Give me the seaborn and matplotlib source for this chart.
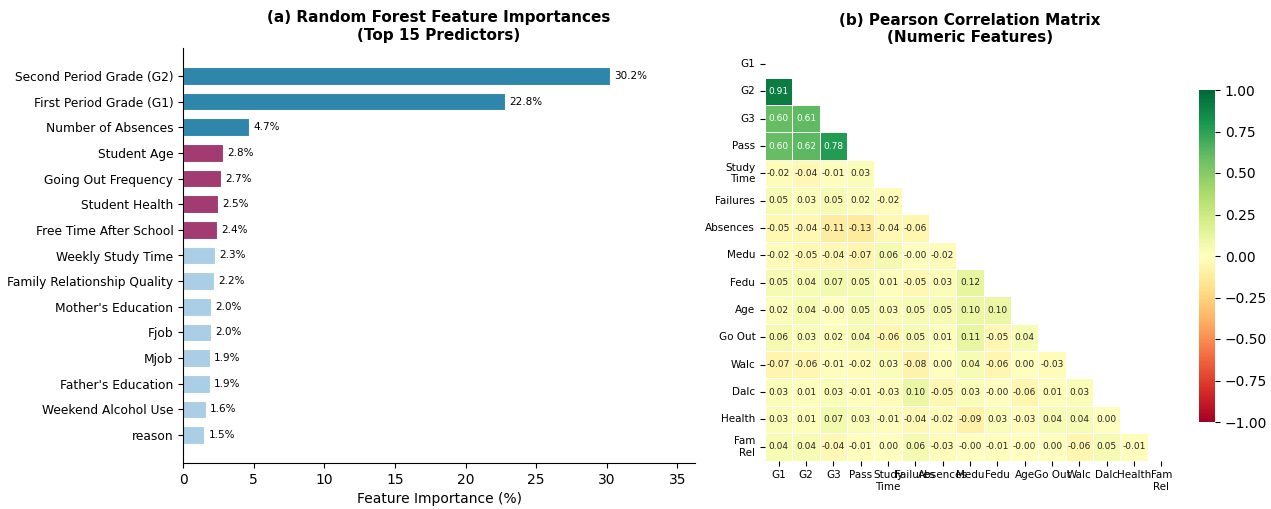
import numpy as np
import pandas as pd
import matplotlib
matplotlib.use("Agg")
import matplotlib.pyplot as plt
import seaborn as sns

# ---- Feature importances (Random Forest, top 15) ----
features = [
    "Second Period Grade (G2)", "First Period Grade (G1)", "Number of Absences",
    "Student Age", "Going Out Frequency", "Student Health", "Free Time After School",
    "Weekly Study Time", "Family Relationship Quality", "Mother's Education",
    "Fjob", "Mjob", "Father's Education", "Weekend Alcohol Use", "reason",
]
importances = [30.2, 22.8, 4.7, 2.8, 2.7, 2.5, 2.4, 2.3, 2.2, 2.0, 2.0, 1.9, 1.9, 1.6, 1.5]
bar_colors = ["#2E86AB"] * 3 + ["#A23B72"] * 4 + ["#A9CEE6"] * 8

# ---- Pearson correlations (lower triangle, row by row) ----
corr_labels = ["G1", "G2", "G3", "Pass", "Study\nTime", "Failures", "Absences",
               "Medu", "Fedu", "Age", "Go Out", "Walc", "Dalc", "Health", "Fam\nRel"]
lower_rows = [
    [],
    [0.91],
    [0.60, 0.61],
    [0.60, 0.62, 0.78],
    [-0.02, -0.04, -0.01, 0.03],
    [0.05, 0.03, 0.05, 0.02, -0.02],
    [-0.05, -0.04, -0.11, -0.13, -0.04, -0.06],
    [-0.02, -0.05, -0.04, -0.07, 0.06, -0.004, -0.02],
    [0.05, 0.04, 0.07, 0.05, 0.01, -0.05, 0.03, 0.12],
    [0.02, 0.04, -0.004, 0.05, 0.03, 0.05, 0.05, 0.10, 0.10],
    [0.06, 0.03, 0.02, 0.04, -0.06, 0.05, 0.01, 0.11, -0.05, 0.04],
    [-0.07, -0.06, -0.01, -0.02, 0.03, -0.08, 0.00, 0.04, -0.06, 0.00, -0.03],
    [0.03, 0.01, 0.03, -0.01, -0.03, 0.10, -0.05, 0.03, -0.004, -0.06, 0.01, 0.03],
    [0.03, 0.01, 0.07, 0.03, -0.01, -0.04, -0.02, -0.09, 0.03, -0.03, 0.04, 0.04, 0.00],
    [0.04, 0.04, -0.04, -0.01, 0.00, 0.06, -0.03, -0.004, -0.01, -0.004, 0.00, -0.06, 0.05, -0.01],
]

n = len(corr_labels)
corr = np.eye(n)
for i, row in enumerate(lower_rows):
    for j, v in enumerate(row):
        corr[i, j] = v
        corr[j, i] = v
corr_df = pd.DataFrame(corr, index=corr_labels, columns=corr_labels)
mask = np.triu(np.ones_like(corr, dtype=bool))

W, H = 1271, 509
fig = plt.figure(figsize=(W / 100, H / 100), dpi=100)

def fbox(x0, y0, x1, y1):
    return [x0 / W, 1 - y1 / H, (x1 - x0) / W, (y1 - y0) / H]

# ---- Panel (a): horizontal bar chart ----
ax1 = fig.add_axes(fbox(183, 48, 695, 463))
imp_df = pd.DataFrame({"feature": features, "importance": importances})
sns.barplot(data=imp_df, x="importance", y="feature", hue="feature",
            palette=bar_colors, legend=False, orient="h", width=0.7,
            saturation=1, edgecolor="white", linewidth=0.8, ax=ax1)
for i, v in enumerate(importances):
    ax1.text(v + 0.3, i, f"{v:.1f}%", va="center", ha="left", fontsize=7.5)
ax1.set_xlim(0, max(importances) * 1.2)
ax1.set_ylim(len(features) - 1 + 1.085, -1.085)
ax1.set_ylabel("")
ax1.set_xlabel("Feature Importance (%)", fontsize=10)
ax1.tick_params(axis="y", labelsize=8.8)
ax1.tick_params(axis="x", labelsize=10)
ax1.set_title("(a) Random Forest Feature Importances\n(Top 15 Predictors)",
              fontsize=11, fontweight="bold")
sns.despine(ax=ax1)

# ---- Panel (b): correlation heatmap ----
ax2 = fig.add_axes(fbox(765, 48, 1175, 463))
cax = fig.add_axes(fbox(1199, 90, 1215, 422))
sns.heatmap(corr_df, mask=mask, cmap="RdYlGn", vmin=-1, vmax=1, center=0,
            annot=True, fmt=".2f", annot_kws={"fontsize": 6.5},
            linewidths=0.5, linecolor="white", square=True,
            ax=ax2, cbar_ax=cax)
ax2.set_title("(b) Pearson Correlation Matrix\n(Numeric Features)",
              fontsize=11, fontweight="bold")
ax2.tick_params(axis="both", labelsize=7.5)
ax2.set_xticklabels(ax2.get_xticklabels(), rotation=0)
ax2.set_yticklabels(ax2.get_yticklabels(), rotation=0)
cax.tick_params(labelsize=10)

fig.savefig("out.png", dpi=100)
